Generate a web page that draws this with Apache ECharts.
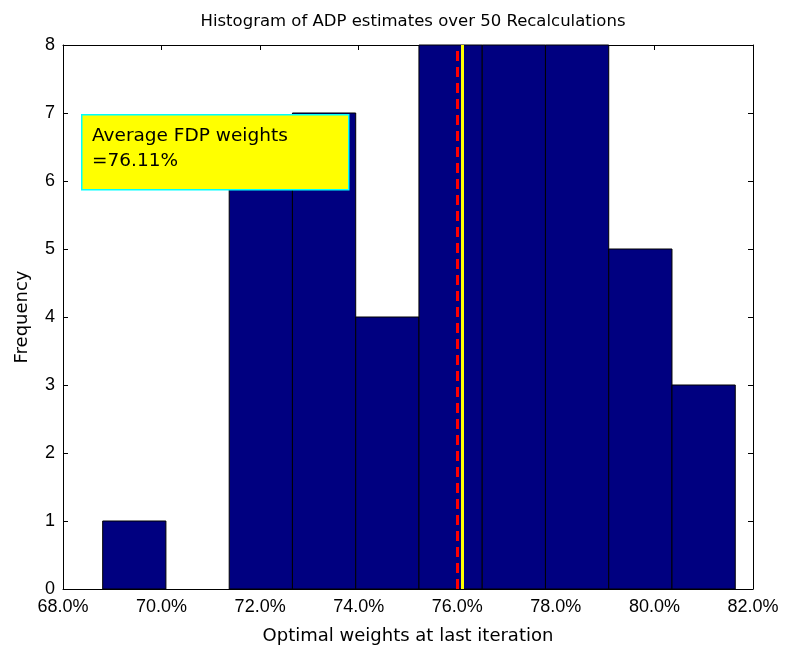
<!DOCTYPE html>
<html><head><meta charset="utf-8">
<script src="https://cdn.jsdelivr.net/npm/echarts@6/dist/echarts.min.js"></script>
<style>html,body{margin:0;padding:0;background:#fff}#c{width:785px;height:651px}</style>
</head><body><div id="c"></div>
<script>
const binEdges = [68.805, 70.088, 71.372, 72.655, 73.939, 75.222, 76.506, 77.789, 79.073, 80.356, 81.640];
const counts = [1, 0, 6, 7, 4, 8, 8, 8, 5, 3];
const xTicks = [68, 70, 72, 74, 76, 78, 80, 82];
const medianLine = 76.00;
const averageLine = 76.11;
const boxText = ['Average FDP weights', '=76.11%'];
const titleText = 'Histogram of ADP estimates over 50 Recalculations';

const FONT = 'Liberation Sans, Arial, sans-serif';
const WFONT = 'DejaVu Sans, Verdana, sans-serif';
const data = counts.map((c, i) => [binEdges[i], binEdges[i + 1], c]);

const chart = echarts.init(document.getElementById('c'));
const axisCommon = {
  axisLine: { show: true, onZero: false, lineStyle: { color: '#000', width: 1 } },
  axisTick: { show: true, inside: true, length: 5, lineStyle: { color: '#000' } },
  splitLine: { show: false }
};
chart.setOption({
  animation: false,
  backgroundColor: '#fff',
  title: {
    text: titleText, left: 408, top: 8, textAlign: 'center',
    textStyle: { fontFamily: WFONT, fontSize: 16.5, fontWeight: 'normal', color: '#000' }
  },
  grid: { left: 63, right: 32, top: 45, bottom: 62, containLabel: false },
  xAxis: [
    Object.assign({
      type: 'value', min: xTicks[0], max: xTicks[xTicks.length - 1], interval: 2,
      position: 'bottom',
      name: 'Optimal weights at last iteration', nameLocation: 'middle', nameGap: 38,
      nameTextStyle: { fontFamily: WFONT, fontSize: 18, color: '#000' },
      axisLabel: { fontFamily: FONT, fontSize: 18, color: '#000', margin: 9,
        formatter: v => v.toFixed(1) + '%' }
    }, axisCommon),
    Object.assign({
      type: 'value', min: xTicks[0], max: xTicks[xTicks.length - 1], interval: 2,
      position: 'top', axisLabel: { show: false }
    }, axisCommon)
  ],
  yAxis: [
    Object.assign({
      type: 'value', min: 0, max: 8, interval: 1, position: 'left',
      name: 'Frequency', nameLocation: 'middle', nameGap: 32,
      nameTextStyle: { fontFamily: WFONT, fontSize: 18, color: '#000' },
      axisLabel: { fontFamily: FONT, fontSize: 18, color: '#000', margin: 8 }
    }, axisCommon),
    Object.assign({
      type: 'value', min: 0, max: 8, interval: 1, position: 'right',
      axisLabel: { show: false }
    }, axisCommon)
  ],
  series: [
    {
      type: 'custom',
      xAxisIndex: 0, yAxisIndex: 0,
      data: data,
      encode: { x: [0, 1], y: 2 },
      renderItem: function (params, api) {
        if (api.value(2) <= 0) return null;
        const p0 = api.coord([api.value(0), 0]);
        const p1 = api.coord([api.value(1), api.value(2)]);
        return {
          type: 'rect',
          shape: { x: p0[0], y: p1[1], width: p1[0] - p0[0], height: p0[1] - p1[1] },
          style: { fill: '#000080', stroke: '#000', lineWidth: 1 }
        };
      },
      z: 2
    },
    {
      type: 'line', data: [], xAxisIndex: 0, yAxisIndex: 0,
      markLine: {
        symbol: 'none', silent: true, label: { show: false },
        data: [
          { xAxis: medianLine, lineStyle: { color: '#ff0000', width: 3, type: [10, 6] } },
          { xAxis: averageLine, lineStyle: { color: '#ffff00', width: 3, type: 'solid' } }
        ]
      },
      z: 3
    }
  ],
  graphic: [
    { type: 'rect', left: 81, top: 114, z: 100, zlevel: 1,
      shape: { width: 267, height: 75 },
      style: { fill: '#ffff00', stroke: '#00ffff', lineWidth: 1.5 } },
    { type: 'text', left: 92, top: 124, z: 101, zlevel: 1,
      style: { text: boxText.join('\n'), font: '18.5px ' + WFONT, lineHeight: 25, fill: '#000' } }
  ]
});
</script></body></html>
